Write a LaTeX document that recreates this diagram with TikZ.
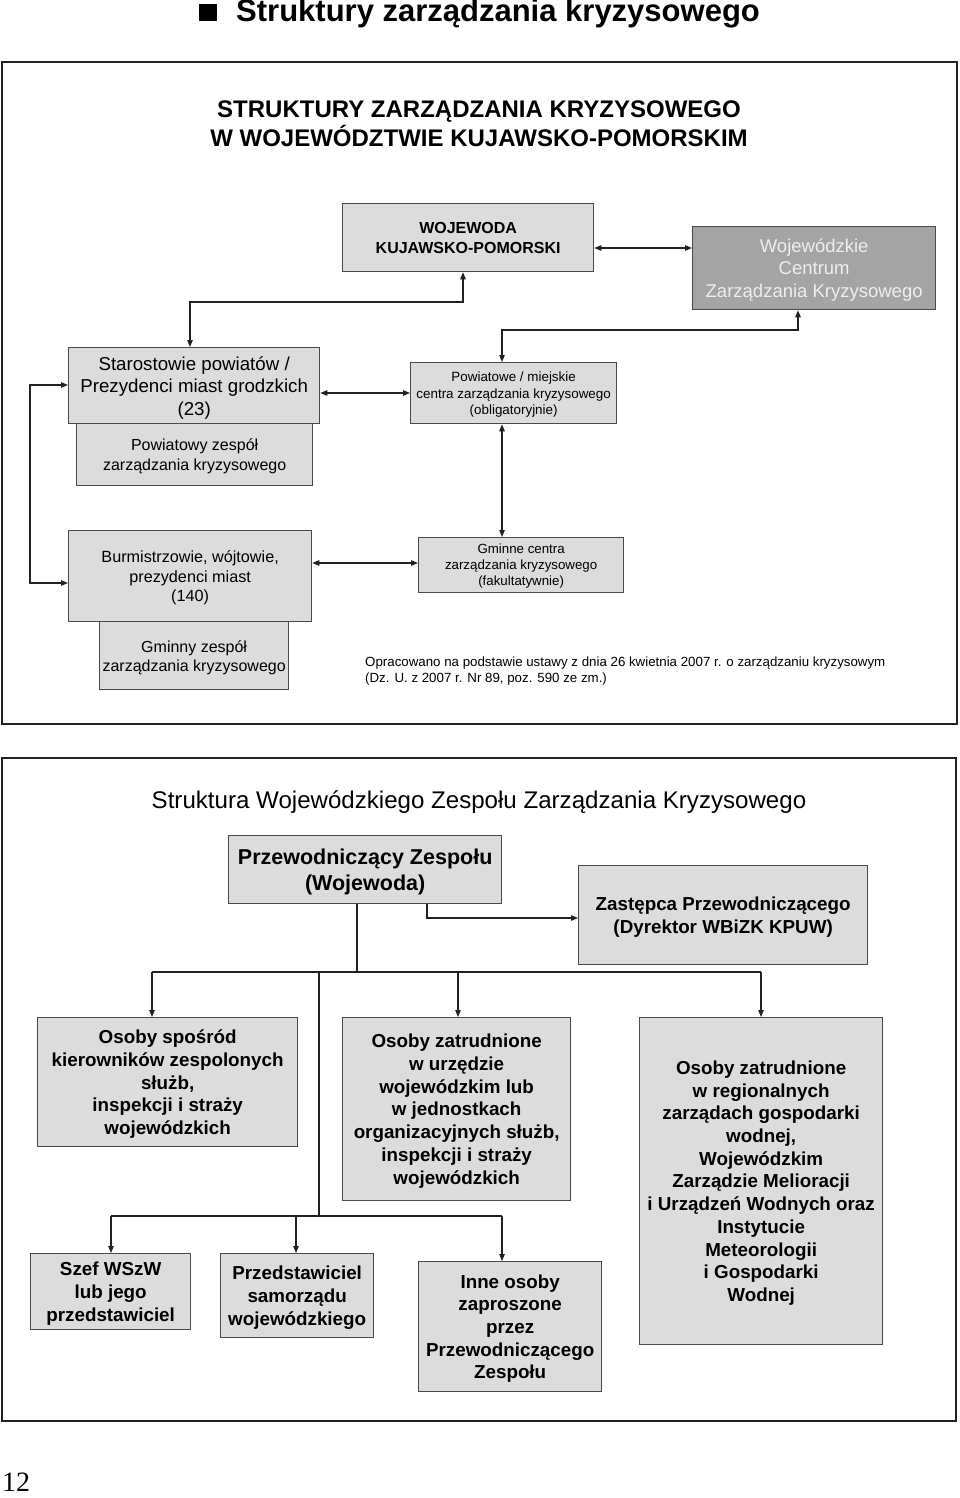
\documentclass[tikz,border=0pt]{standalone}
\usepackage{fontspec}
\setmainfont{Liberation Sans}
\newfontfamily\pgserif{Liberation Serif}
\usetikzlibrary{arrows.meta,calc}
\definecolor{boxfill}{HTML}{DCDCDC}
\definecolor{darkfill}{HTML}{A4A4A4}
\definecolor{edge}{HTML}{4A4A4A}
\definecolor{lighttext}{HTML}{EEEEEE}
\definecolor{linecol}{HTML}{222222}
\newcommand\fsz[2]{\fontsize{#1}{#2}\selectfont}
\begin{document}
\begin{tikzpicture}[x=1pt,y=-1pt,
  box/.style={draw=edge, fill=boxfill, line width=1.3pt, inner sep=0pt, align=center, anchor=north west, text depth=0pt},
  darkbox/.style={box, fill=darkfill, text=lighttext},
  frame/.style={draw=linecol, line width=1.8pt},
  conn/.style={draw=linecol, line width=1.1pt},
  arr/.style={conn, -{Triangle[length=7pt,width=5.5pt]}},
  dbl/.style={conn, {Triangle[length=7pt,width=5.5pt]}-{Triangle[length=7pt,width=5.5pt]}}]
\useasboundingbox (0,0) rectangle (960,1498);
\fill[white] (0,0) rectangle (960,1498);

% page title
\fill[black] (199,4) rectangle (217,21);
\node[anchor=west, inner sep=0pt, font=\fsz{31}{34}\bfseries] (title) at (236,14) {Struktury zarządzania kryzysowego};

% ===== frame 1 =====
\draw[frame] (2,62) rectangle (957,724);
\node[align=center, inner sep=0pt, font=\fsz{24}{29}\bfseries] (t1) at (479,124) {STRUKTURY ZARZĄDZANIA KRYZYSOWEGO\\W WOJEWÓDZTWIE KUJAWSKO-POMORSKIM};

\node[box, minimum width=251, minimum height=68, font=\fsz{16}{20}\bfseries] (woj) at (342,203) {WOJEWODA\\KUJAWSKO-POMORSKI};
\node[darkbox, minimum width=243, minimum height=83, font=\fsz{18.5}{22.5}] (cent) at (692,226) {Wojewódzkie\\Centrum\\Zarządzania Kryzysowego};

\node[box, minimum width=251, minimum height=76, font=\fsz{18.7}{22.5}] (star) at (68,347) {Starostowie powiatów /\\Prezydenci miast grodzkich\\(23)};
\node[box, minimum width=236, minimum height=62, font=\fsz{16}{20}] (pzes) at (76,423) {Powiatowy zespół\\zarządzania kryzysowego};
\node[box, minimum width=206, minimum height=61, font=\fsz{13.4}{16.5}] (pcen) at (410,362) {Powiatowe / miejskie\\centra zarządzania kryzysowego\\(obligatoryjnie)};

\node[box, minimum width=243, minimum height=91, font=\fsz{16.2}{19.5}] (burm) at (68,530) {Burmistrzowie, wójtowie,\\prezydenci miast\\(140)};
\node[box, minimum width=205, minimum height=55, font=\fsz{13.3}{16}] (gcen) at (418,537) {Gminne centra\\zarządzania kryzysowego\\(fakultatywnie)};
\node[box, minimum width=189, minimum height=68, font=\fsz{16}{19}] (gzes) at (99,621) {Gminny zespół\\zarządzania kryzysowego};

\node[anchor=west, align=left, inner sep=0pt, font=\fsz{13.3}{16}] (note) at (365,671) {Opracowano na podstawie ustawy z dnia 26 kwietnia 2007 r. o zarządzaniu kryzysowym\\(Dz. U. z 2007 r. Nr 89, poz. 590 ze zm.)};

\coordinate (a1) at (593,248);
\coordinate (k1) at (463,302);
\coordinate (k2) at (190,302);
\coordinate (k3) at (798,330);
\coordinate (k4) at (502,330);
\coordinate (k5) at (319,393);
\coordinate (k6) at (311,563);
\coordinate (k7) at (30,385);
\coordinate (k8) at (30,583);

\draw[dbl] (woj.east |- a1) -- (cent.west |- a1);
\draw[dbl] (woj.south -| k1) -- (k1) -- (k2) -- (k2 |- star.north);
\draw[dbl] (cent.south -| k3) -- (k3) -- (k4) -- (k4 |- pcen.north);
\draw[dbl] (star.east |- k5) -- (pcen.west |- k5);
\draw[dbl] (pcen.south -| k4) -- (gcen.north -| k4);
\draw[dbl] (burm.east |- k6) -- (gcen.west |- k6);
\draw[dbl] (star.west |- k7) -- (k7) -- (k8) -- (burm.west |- k8);

% ===== frame 2 =====
\draw[frame] (2,758) rectangle (956,1421);
\node[inner sep=0pt, font=\fsz{24.1}{28}] (t2) at (479,802) {Struktura Wojewódzkiego Zespołu Zarządzania Kryzysowego};

\node[box, minimum width=273, minimum height=68, font=\fsz{21.5}{26}\bfseries] (prz) at (228,835) {Przewodniczący Zespołu\\(Wojewoda)};
\node[box, minimum width=289, minimum height=99, font=\fsz{18.8}{23}\bfseries] (zast) at (578,865) {Zastępca Przewodniczącego\\(Dyrektor WBiZK KPUW)};

\node[box, minimum width=260, minimum height=129, font=\fsz{18.8}{22.7}\bfseries] (osp) at (37,1017) {Osoby spośród\\kierowników zespolonych\\służb,\\inspekcji i straży\\wojewódzkich};
\node[box, minimum width=228, minimum height=183, font=\fsz{18.8}{22.7}\bfseries] (ozat) at (342,1017) {Osoby zatrudnione\\w urzędzie\\wojewódzkim lub\\w jednostkach\\organizacyjnych służb,\\inspekcji i straży\\wojewódzkich};
\node[box, minimum width=243, minimum height=327, font=\fsz{18.8}{22.7}\bfseries] (oreg) at (639,1017) {Osoby zatrudnione\\w regionalnych\\zarządach gospodarki\\wodnej,\\Wojewódzkim\\Zarządzie Melioracji\\i Urządzeń Wodnych oraz\\Instytucie\\Meteorologii\\i Gospodarki\\Wodnej};

\node[box, minimum width=160, minimum height=76, font=\fsz{18.8}{22.7}\bfseries] (szef) at (30,1253) {Szef WSzW\\lub jego\\przedstawiciel};
\node[box, minimum width=153, minimum height=84, font=\fsz{18.8}{22.7}\bfseries] (przed) at (220,1253) {Przedstawiciel\\samorządu\\wojewódzkiego};
\node[box, minimum width=183, minimum height=130, font=\fsz{18.8}{22.7}\bfseries] (inne) at (418,1261) {Inne osoby\\zaproszone\\przez\\Przewodniczącego\\Zespołu};

\coordinate (m1) at (427,918);
\coordinate (m2) at (357,972);
\coordinate (m3) at (152,972);
\coordinate (m4) at (458,972);
\coordinate (m5) at (761,972);
\coordinate (m6) at (319,972);
\coordinate (m7) at (319,1216);
\coordinate (m8) at (111,1216);
\coordinate (m9) at (296,1216);
\coordinate (m10) at (502,1216);

\draw[arr] (prz.south -| m1) -- (m1) -- (zast.west |- m1);
\draw[conn] (prz.south -| m2) -- (m2);
\draw[conn] (m3) -- (m5);
\draw[arr] (m3) -- (osp.north -| m3);
\draw[arr] (m4) -- (ozat.north -| m4);
\draw[arr] (m5) -- (oreg.north -| m5);
\draw[conn] (m6) -- (m7);
\draw[conn] (m8) -- (m10);
\draw[arr] (m8) -- (szef.north -| m8);
\draw[arr] (m9) -- (przed.north -| m9);
\draw[arr] (m10) -- (inne.north -| m10);

% page number
\node[anchor=west, inner sep=0pt, font=\pgserif\fsz{28}{30}] (pg) at (2,1482) {12};
\end{tikzpicture}
\end{document}
